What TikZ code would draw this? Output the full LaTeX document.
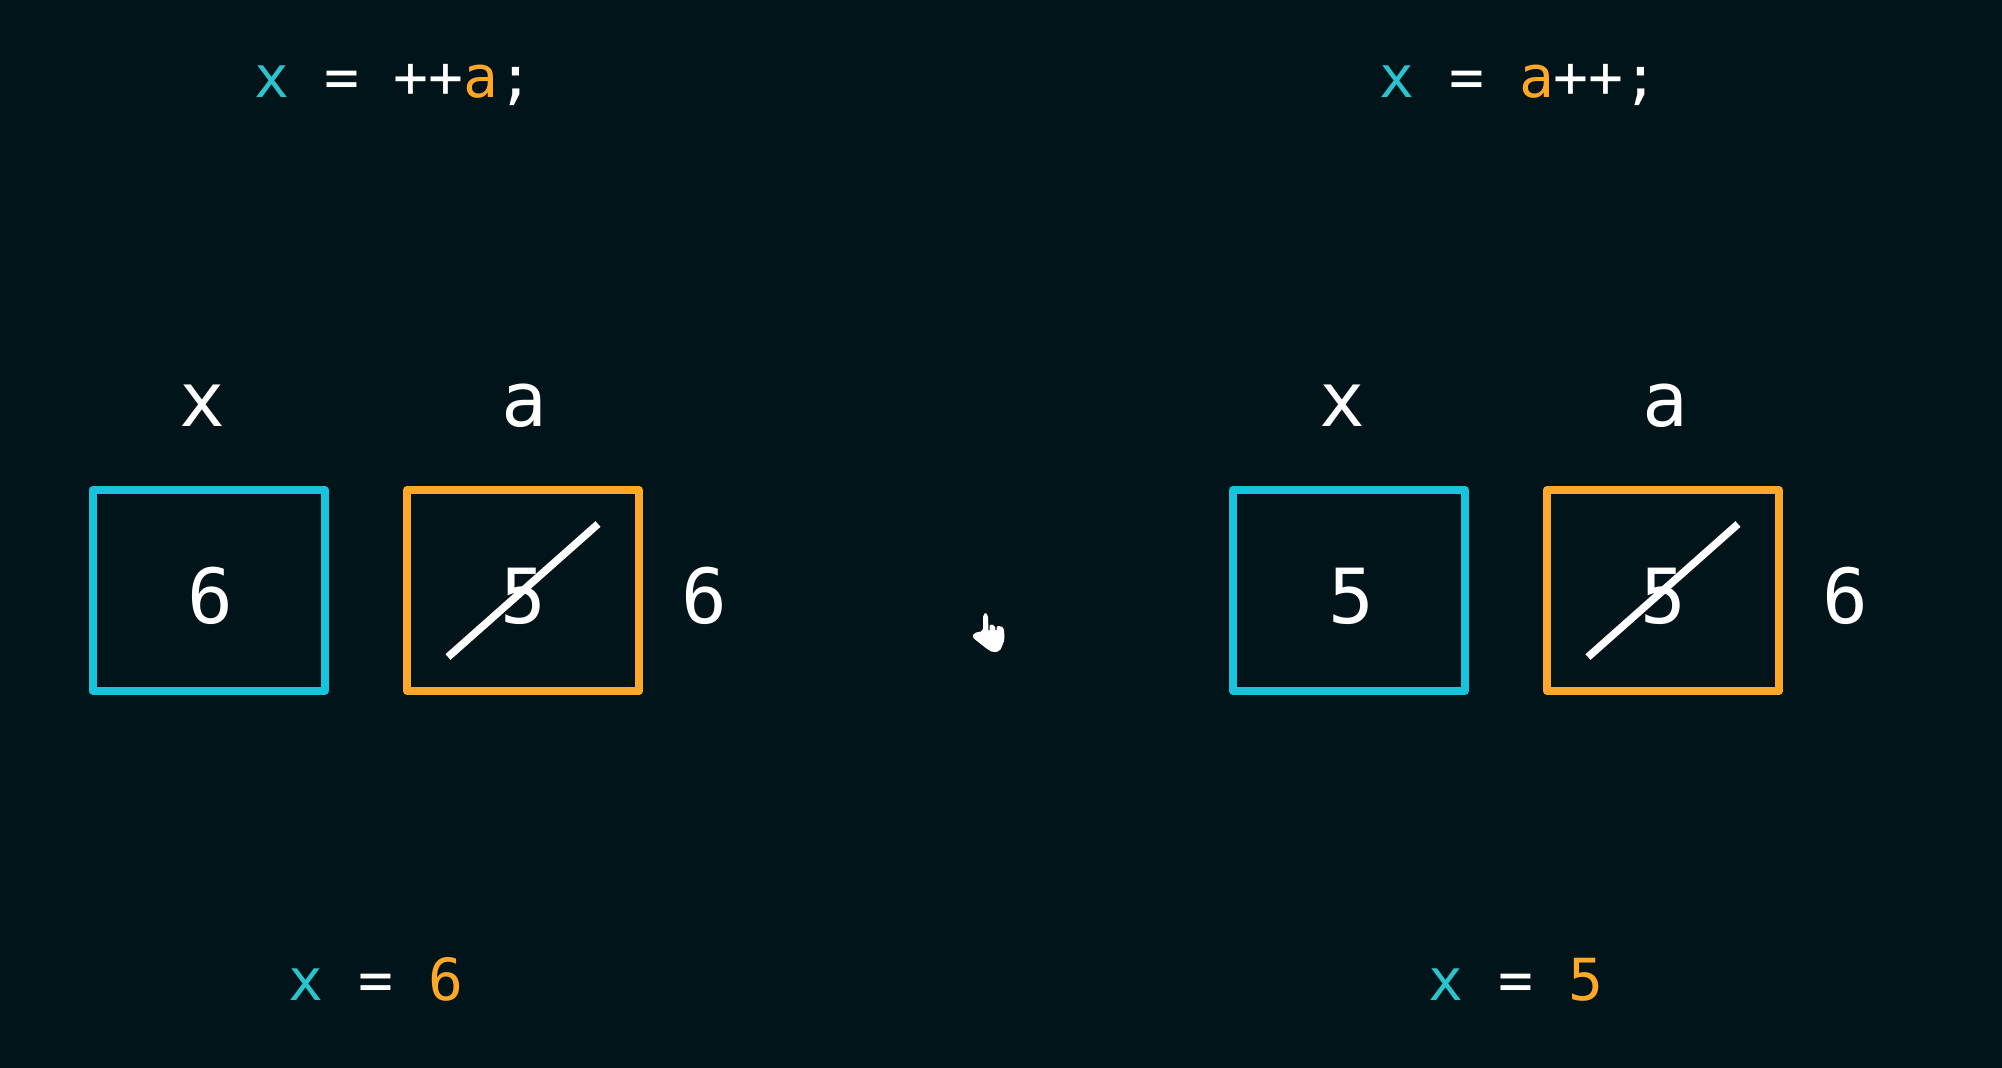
\documentclass[tikz,border=0pt]{standalone}
\usepackage{fontspec}
\setmainfont{DejaVu Sans Mono}
\definecolor{bgdark}{HTML}{01141A}
\definecolor{boxcyan}{HTML}{17C4DE}
\definecolor{boxorange}{HTML}{FFA726}
\definecolor{codecyan}{HTML}{2BC4CC}
\newcommand{\cx}{\textcolor{codecyan}{x}}
\newcommand{\oa}[1]{\textcolor{boxorange}{#1}}
\tikzset{code/.style={text=white,anchor=base,inner sep=0pt,font=\fontsize{29}{32}\selectfont}}
\tikzset{val/.style={text=white,anchor=base,inner sep=0pt,font=\fontsize{38}{42}\selectfont}}
\tikzset{cell/.style={draw=#1,line width=4pt,line join=round,minimum width=116pt,minimum height=100.5pt,inner sep=0pt}}
\tikzset{strike/.style={draw=white,line width=3.8pt}}
\begin{document}
\begin{tikzpicture}[x=0.5pt,y=-0.5pt]
\fill[bgdark] (0,0) rectangle (2002,1068);
\useasboundingbox (0,0) rectangle (2002,1068);
\node (codeL) at (394,98) [code] {\cx{} = ++\oa{a};};
\node (codeR) at (1519,98) [code] {\cx{} = \oa{a}++;};
\node (nameXL) at (202,427) [val] {x};
\node (nameAL) at (524,427) [val] {a};
\node (nameXR) at (1342,427) [val] {x};
\node (nameAR) at (1665,427) [val] {a};
\node (boxXL) at (208.5,590.5) [cell=boxcyan] {};
\node (boxAL) at (523,590.5) [cell=boxorange] {};
\node (boxXR) at (1349,590.5) [cell=boxcyan] {};
\node (boxAR) at (1663,590.5) [cell=boxorange] {};
\node (valXL) at (210,624) [val] {6};
\node (oldAL) at (523,624) [val] {5};
\node (newAL) at (704.5,624) [val] {6};
\node (valXR) at (1351,624) [val] {5};
\node (oldAR) at (1663,624) [val] {5};
\node (newAR) at (1845,624) [val] {6};
\coordinate (slashLa) at (448,657);
\coordinate (slashLb) at (598,524);
\coordinate (slashRa) at (1588,657);
\coordinate (slashRb) at (1738,524);
\draw[strike] (slashLa)--(slashLb);
\draw[strike] (slashRa)--(slashRb);
\node (resL) at (376,1000) [code] {\cx{} = \oa{6}};
\node (resR) at (1516,1000) [code] {\cx{} = \oa{5}};
\fill[white,rounded corners=1pt] (983,615)--(985.5,612.5)--(988,615)--(988.5,632)--(989.5,632)--(989.5,624.5)--(995,625)--(995.5,632)--(996.5,632)--(996.5,626)--(1001,626)--(1004,628)--(1004.5,640)--(1000,651)--(993,652.5)--(987,649)--(972,637)--(974,633)--(983,631)--cycle;
\end{tikzpicture}
\end{document}
